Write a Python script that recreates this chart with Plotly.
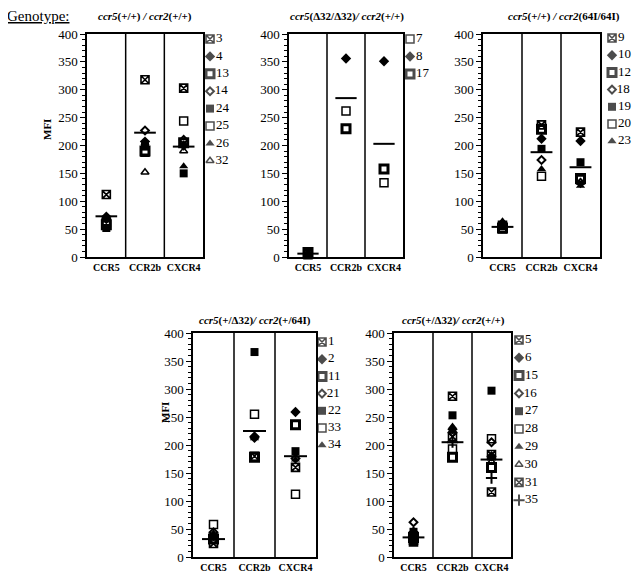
import plotly.graph_objects as go

# the page has an 8px body margin, so the figure is 8px smaller and pixel
# positions below are shifted by OFF
OFF = 8
W, H = 643 - OFF, 572 - OFF

categories = ['CCR5', 'CCR2b', 'CXCR4']

# panel 1: ccr5(+/+) / ccr2(+/+)
p1_donors = ['3', '4', '13', '14', '24', '25', '26', '32']
p1_kinds = ['xsq', 'fdia', 'tsq', 'odia', 'fsq', 'osq', 'ftri', 'otri']
p1_ccr5 = [112, 68, 58, 72, 52, 62, 66, 70]
p1_ccr2b = [318, 207, 190, 227, 198, 188, 205, 152]
p1_cxcr4 = [303, 200, 205, 210, 150, 244, 163, 190]
p1_means = [73, 223, 198]

# panel 2: ccr5(D32/D32) / ccr2(+/+)
p2_donors = ['7', '8', '17']
p2_kinds = ['osq', 'fdia', 'tsq']
p2_ccr5 = [4, 6, 8]
p2_ccr2b = [262, 356, 230]
p2_cxcr4 = [133, 351, 158]
p2_means = [6, 285, 203]

# panel 3: ccr5(+/+) / ccr2(64I/64I)
p3_donors = ['9', '10', '12', '18', '19', '20', '23']
p3_kinds = ['xsq', 'fdia', 'tsq', 'odia', 'fsq', 'osq', 'ftri']
p3_ccr5 = [57, 60, 52, 58, 56, 50, 64]
p3_ccr2b = [237, 212, 229, 174, 194, 145, 158]
p3_cxcr4 = [224, 208, 141, 133, 170, 138, 128]
p3_means = [54, 188, 161]

# panel 4: ccr5(+/D32) / ccr2(+/64I)
p4_donors = ['1', '2', '11', '21', '22', '33', '34']
p4_kinds = ['xsq', 'fdia', 'tsq', 'odia', 'fsq', 'osq', 'ftri']
p4_ccr5 = [24, 38, 32, 44, 36, 58, 42]
p4_ccr2b = [180, 213, 178, 215, 366, 255, 212]
p4_cxcr4 = [160, 259, 236, 176, 189, 112, 174]
p4_means = [32, 225, 180]

# panel 5: ccr5(+/D32) / ccr2(+/+)
p5_donors = ['5', '6', '15', '16', '27', '28', '29', '30', '31', '35']
p5_kinds = ['xsq', 'fdia', 'tsq', 'odia', 'fsq', 'osq', 'ftri', 'otri', 'xsq', 'plus']
p5_ccr5 = [27, 40, 35, 62, 45, 38, 48, 42, 30, 36]
p5_ccr2b = [287, 228, 178, 222, 253, 193, 233, 225, 215, 205]
p5_cxcr4 = [183, 180, 160, 205, 297, 211, 176, 170, 116, 141]
p5_means = [35, 205, 174]

titles = [
    '<b><i>ccr5</i>(+/+)<i> / </i><i>ccr2</i>(+/+)</b>',
    '<b><i>ccr5</i>(\u039432/\u039432)<i>/ </i><i>ccr2</i>(+/+)</b>',
    '<b><i>ccr5</i>(+/+)<i> / </i><i>ccr2</i>(64I/64I)</b>',
    '<b><i>ccr5</i>(+/\u039432)<i>/ </i><i>ccr2</i>(+/64I)</b>',
    '<b><i>ccr5</i>(+/\u039432)<i>/ </i><i>ccr2</i>(+/+)</b>',
]

panels = [
    (p1_donors, p1_kinds, p1_ccr5, p1_ccr2b, p1_cxcr4, p1_means),
    (p2_donors, p2_kinds, p2_ccr5, p2_ccr2b, p2_cxcr4, p2_means),
    (p3_donors, p3_kinds, p3_ccr5, p3_ccr2b, p3_cxcr4, p3_means),
    (p4_donors, p4_kinds, p4_ccr5, p4_ccr2b, p4_cxcr4, p4_means),
    (p5_donors, p5_kinds, p5_ccr5, p5_ccr2b, p5_cxcr4, p5_means),
]

# pixel boxes of each plot area: left, right, top, bottom
boxes = [(87, 203, 34, 257), (289, 403, 34, 257), (483, 600, 34, 257),
         (193, 316, 333, 557), (394, 511, 333, 557)]
title_pos = [(145, 16), (347, 16), (564, 16), (255, 320), (453, 320)]
legend_pos = [(210, 39, 17.4), (410, 39, 17.5), (612, 38, 17.2),
              (322, 342, 17.2), (519, 340, 17.8)]


def px(x):
    return (x - OFF) / W


def py(y):
    return 1 - (y - OFF) / H


# marker styles: symbol, size, line width
styles = {
    'xsq': ('square-x-open', 8, 1.6),
    'fdia': ('diamond', 8, 0),
    'tsq': ('square-open', 8, 3),
    'odia': ('diamond-open', 6, 2),
    'fsq': ('square', 8, 0),
    'osq': ('square-open', 8, 1.5),
    'ftri': ('triangle-up', 8, 0),
    'otri': ('triangle-up-open', 7, 1.5),
    'plus': ('cross-thin-open', 8, 2),
}

FONT = 'Liberation Serif'
fig = go.Figure()
shapes = []
annotations = []

for k, (donors, kinds, c5, c2, cx, means) in enumerate(panels):
    n = k + 1
    xa = 'x' if n == 1 else f'x{n}'
    ya = 'y' if n == 1 else f'y{n}'
    l, r, t, b = boxes[k]
    xcent = [i + 0.5 for i in range(len(categories))]
    for d, kind, a, bb, c in zip(donors, kinds, c5, c2, cx):
        sym, size, lw = styles[kind]
        fig.add_trace(go.Scatter(
            x=xcent, y=[a, bb, c], mode='markers', name=d, showlegend=False,
            marker=dict(symbol=sym, size=size, color='black',
                        line=dict(width=lw, color='black')),
            xaxis=xa, yaxis=ya, cliponaxis=False))
    # mean lines
    for i, m in enumerate(means):
        shapes.append(dict(type='line', xref=xa, yref=ya, x0=i + 0.22, x1=i + 0.78,
                           y0=m, y1=m, line=dict(color='black', width=2)))
    # column separators
    for s in (1, 2):
        shapes.append(dict(type='line', xref=xa, yref=f'{ya} domain', x0=s, x1=s,
                           y0=0, y1=1, line=dict(color='black', width=1.5)))
    ax = dict(domain=[px(l), px(r)], anchor=ya, range=[0, 3], automargin=False,
              tickvals=xcent, ticktext=[f'<b>{c}</b>' for c in categories],
              ticks='', showgrid=False, zeroline=False,
              showline=True, linecolor='black', linewidth=1.5, mirror=True,
              tickfont=dict(family=FONT, size=10, color='black'), fixedrange=True)
    ay = dict(domain=[py(b), py(t)], anchor=xa, range=[0, 400], automargin=False,
              dtick=50, ticks='outside', ticklen=5, tickwidth=1.2, tickcolor='black',
              minor=dict(dtick=10, ticks='outside', ticklen=3, tickcolor='black', tickwidth=1),
              showgrid=False, zeroline=False,
              showline=True, linecolor='black', linewidth=1.5, mirror=True,
              tickfont=dict(family=FONT, size=13, color='black'), fixedrange=True)
    fig.update_layout(**{('xaxis' if n == 1 else f'xaxis{n}'): ax,
                         ('yaxis' if n == 1 else f'yaxis{n}'): ay})
    tx, ty = title_pos[k]
    annotations.append(dict(text=titles[k], x=px(tx), y=py(ty), xref='paper', yref='paper',
                            showarrow=False, xanchor='center', yanchor='middle',
                            font=dict(family=FONT, size=11, color='black')))
    # donor key next to the panel
    lx, ly, dy = legend_pos[k]
    fig.add_trace(go.Scatter(
        x=[lx] * len(donors), y=[ly + i * dy for i in range(len(donors))],
        mode='markers+text', text=donors, textposition='middle right',
        textfont=dict(family=FONT, size=13, color='black'),
        marker=dict(symbol=[styles[s][0] for s in kinds],
                    size=[styles[s][1] for s in kinds], color='black',
                    line=dict(width=[styles[s][2] for s in kinds], color='black')),
        xaxis='x6', yaxis='y6', showlegend=False, cliponaxis=False))

# overlay axis in page pixels for the donor keys
fig.update_layout(
    xaxis6=dict(domain=[0, 1], range=[OFF, OFF + W], visible=False, anchor='y6',
                automargin=False, fixedrange=True),
    yaxis6=dict(domain=[0, 1], range=[OFF + H, OFF], visible=False, anchor='x6',
                automargin=False, fixedrange=True),
)

annotations.append(dict(text='<u>Genotype:</u>', x=px(5), y=py(16), xref='paper', yref='paper',
                        showarrow=False, xanchor='left', yanchor='middle',
                        font=dict(family=FONT, size=15, color='black')))
for mx, my in [(47, 130), (165, 413)]:
    annotations.append(dict(text='<b>MFI</b>', x=px(mx), y=py(my), xref='paper', yref='paper',
                            showarrow=False, textangle=-90, xanchor='center', yanchor='middle',
                            font=dict(family=FONT, size=11, color='black')))

fig.update_layout(
    width=W, height=H, margin=dict(l=0, r=0, t=0, b=0),
    paper_bgcolor='white', plot_bgcolor='rgba(0,0,0,0)',
    shapes=shapes, annotations=annotations, showlegend=False,
    font=dict(family=FONT, color='black'),
)

fig.write_html('out.html')
